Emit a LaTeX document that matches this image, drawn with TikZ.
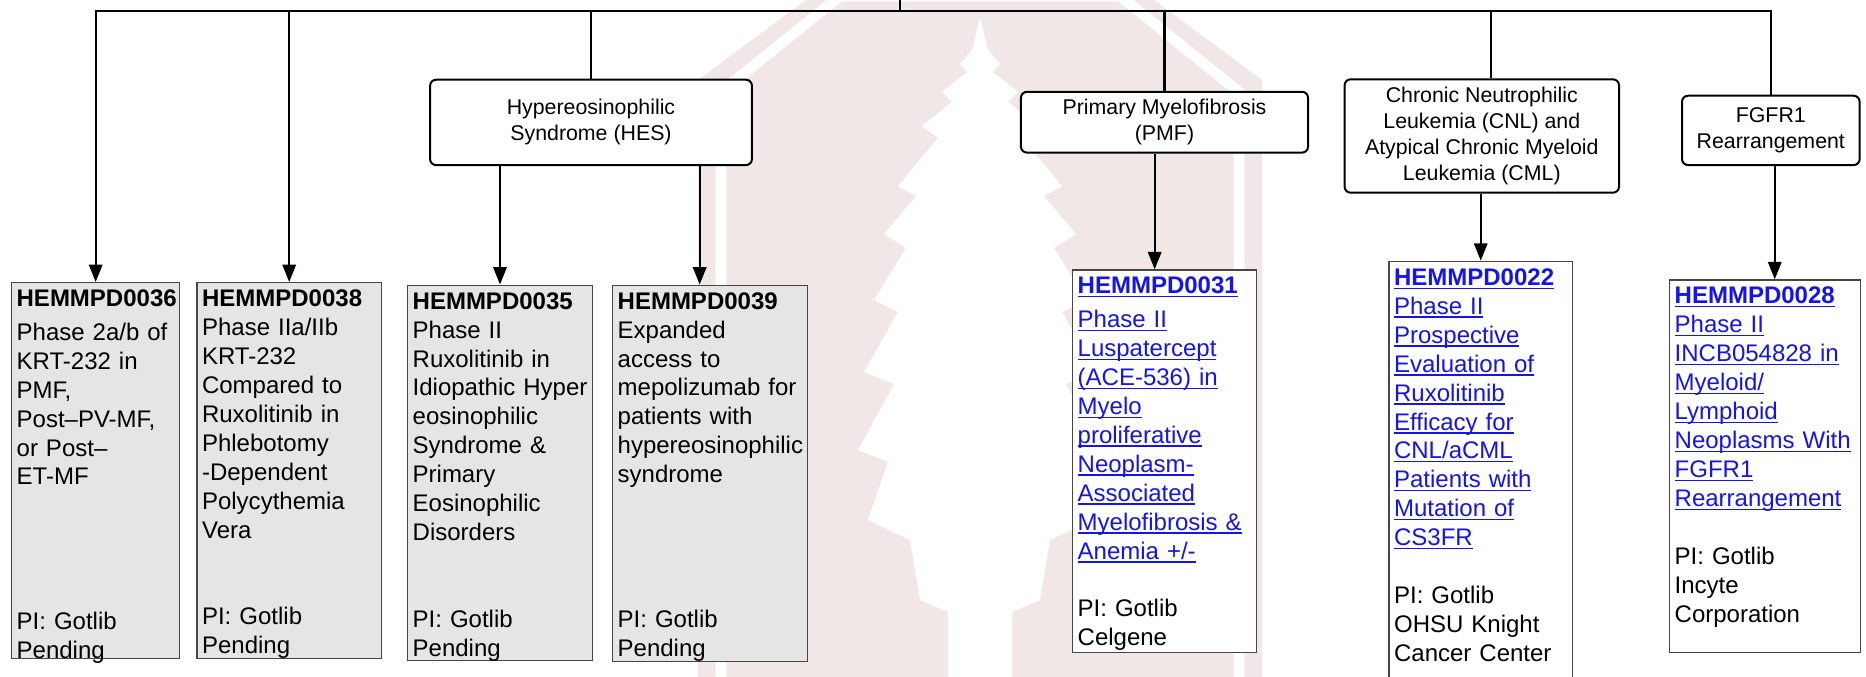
\documentclass[tikz,border=0pt]{standalone}
\usepackage{fontspec}
\setmainfont{Liberation Sans}
\usetikzlibrary{arrows.meta}

\definecolor{linkblue}{RGB}{20,20,235}
\definecolor{pendfill}{RGB}{229,229,229}
\definecolor{boxline}{RGB}{70,70,70}
\definecolor{crest}{RGB}{242,231,231}

\newsavebox{\lnkbox}
\newcommand{\lnk}[1]{\textcolor{linkblue}{\sbox{\lnkbox}{#1}\rlap{\rule[-2.6pt]{\wd\lnkbox}{1pt}}\usebox{\lnkbox}}}

\tikzset{
    wire/.style={line width=1.6pt},
    arrow/.style={wire, -{Triangle[length=13pt, width=10pt]}},
    groupbox/.style={draw, line width=1.5pt, rounded corners=4.5pt, fill=white,
        align=center, inner sep=0pt, font=\fontsize{16}{19.5}\selectfont},
    pendtrial/.style={draw=boxline, line width=1pt, fill=pendfill, anchor=north west,
        align=left, inner xsep=3.75pt, inner ysep=5.1pt, text height=12.9pt,
        font=\fontsize{18}{21.7}\selectfont},
    opentrial/.style={pendtrial, fill=white}
}

\begin{document}
\begin{tikzpicture}[x=0.75pt, y=-0.75pt]
            \useasboundingbox (0, 0) rectangle (1866, 676);
            \fill[white] (0, 0) rectangle (1866, 676);

            % watermark behind the chart
            \fill[crest] (698, 700) -- (698, 80) -- (806, 0) -- (1154, 0) -- (1262, 80) -- (1262, 700) -- cycle;
            \draw[white, line width=8pt] (721, 700) -- (721, 92) -- (840, -4) -- (1120, -4) -- (1239, 92) -- (1239, 700);
            \fill[white] (980, 18) -- (988, 50) -- (1000, 64) -- (993, 72) -- (1018, 92) -- (1008, 102)
                -- (1038, 126) -- (1022, 138) -- (1062, 186) -- (1044, 196) -- (1076, 234) -- (1054, 248)
                -- (1086, 300) -- (1062, 312) -- (1096, 372) -- (1066, 384) -- (1102, 450) -- (1072, 462)
                -- (1092, 520) -- (1050, 540) -- (1040, 600) -- (1012, 612) -- (1012, 700) -- (948, 700)
                -- (948, 612) -- (920, 600) -- (910, 540) -- (868, 520) -- (888, 462) -- (858, 450)
                -- (894, 384) -- (864, 372) -- (898, 312) -- (874, 300) -- (906, 248) -- (884, 234)
                -- (916, 196) -- (898, 186) -- (938, 138) -- (922, 126) -- (952, 102) -- (942, 92)
                -- (967, 72) -- (960, 64) -- (972, 50) -- cycle;

            \node[groupbox, minimum width=241.4pt, minimum height=64pt] (hes) at (591, 122.4) {Hypereosinophilic\\Syndrome (HES)};
            \node[groupbox, minimum width=215.3pt, minimum height=45.6pt] (pmf) at (1164.5, 122.2) {Primary Myelofibrosis\\(PMF)};
            \node[groupbox, minimum width=205.8pt, minimum height=85pt] (cnl) at (1481.8, 136) {Chronic Neutrophilic\\Leukemia (CNL) and\\Atypical Chronic Myeloid\\Leukemia (CML)};
            \node[groupbox, minimum width=133.2pt, minimum height=52pt] (fgfr) at (1770.8, 130.4) {FGFR1\\Rearrangement};

            \node[pendtrial, text width=118.5pt, text depth=258.9pt] (t36) at (11, 282)
                {\textbf{HEMMPD0036}\\[3.5pt] Phase 2a/b of\\ KRT-232 in\\ PMF,\\ Post–PV-MF,\\ or Post–\\ ET-MF\\[86.8pt] PI: Gotlib\\ Pending};
            \node[pendtrial, text width=130.7pt, text depth=258.9pt] (t38) at (196.4, 282)
                {\textbf{HEMMPD0038}\\ Phase IIa/IIb\\ KRT-232\\ Compared to\\ Ruxolitinib in\\ Phlebotomy\\ -Dependent\\ Polycythemia\\ Vera\\[43.4pt] PI: Gotlib\\ Pending};
            \node[pendtrial, text width=131pt, text depth=258.5pt] (t35) at (407, 284.5)
                {\textbf{HEMMPD0035}\\ Phase II\\ Ruxolitinib in\\ \mbox{Idiopathic Hyper}\\ eosinophilic\\ Syndrome \&\\ Primary\\ Eosinophilic\\ Disorders\\[43.4pt] PI: Gotlib\\ Pending};
            \node[pendtrial, text width=138.8pt, text depth=259.3pt] (t39) at (612, 284.5)
                {\textbf{HEMMPD0039}\\ Expanded\\ access to\\ mepolizumab for\\ patients with\\ hypereosinophilic\\ syndrome\\[86.8pt] PI: Gotlib\\ Pending};
            \node[opentrial, text width=130.5pt, text depth=263.7pt] (t31) at (1072, 269.3)
                {\textbf{\lnk{HEMMPD0031}}\\[3.5pt] \lnk{Phase II}\\ \lnk{Luspatercept}\\ \lnk{(ACE-536) in}\\ \lnk{Myelo}\\ \lnk{proliferative}\\ \lnk{Neoplasm-}\\ \lnk{Associated}\\ \lnk{Myelofibrosis \&}\\ \lnk{Anemia +/-}\\[21.7pt] PI: Gotlib\\ Celgene};
            \node[opentrial, text width=130pt, text depth=306.4pt] (t22) at (1388.4, 260.7)
                {\textbf{\lnk{HEMMPD0022}}\\ \lnk{Phase II}\\ \lnk{Prospective}\\ \lnk{Evaluation of}\\ \lnk{Ruxolitinib}\\ \lnk{Efficacy for}\\ \lnk{CNL/aCML}\\ \lnk{Patients with}\\ \lnk{Mutation of}\\ \lnk{CS3FR}\\[21.7pt] PI: Gotlib\\ OHSU Knight\\ Cancer Center};
            \node[opentrial, text width=135.5pt, text depth=256.2pt] (t28) at (1669, 279.3)
                {\textbf{\lnk{HEMMPD0028}}\\ \lnk{Phase II}\\ \lnk{INCB054828 in}\\ \lnk{Myeloid/}\\ \lnk{Lymphoid}\\ \lnk{Neoplasms With}\\ \lnk{FGFR1}\\ \lnk{Rearrangement}\\[21.7pt] PI: Gotlib\\ Incyte\\ Corporation};

            \coordinate (root) at (900, 0);
            \coordinate (bus) at (0, 10.8);
            \coordinate (c22) at ([xshift=6.7pt]cnl.north);
            \coordinate (a39) at ([xshift=-7.9pt]t39.north);
            \coordinate (a31) at ([xshift=-7.5pt]t31.north);
            \coordinate (a28) at ([xshift=7.3pt]t28.north);

            \draw[wire] (root) -- (root |- bus);
            \draw[arrow] (fgfr.north) -- (fgfr.north |- bus) -- (t36.north |- bus) -- (t36.north);
            \draw[arrow] (t38.north |- bus) -- (t38.north);
            \draw[wire] (hes.north |- bus) -- (hes.north);
            \draw[wire] (pmf.north |- bus) -- (pmf.north);
            \draw[wire] (c22 |- bus) -- (c22);

            \draw[arrow] (t35.north |- hes.south) -- (t35.north);
            \draw[arrow] (a39 |- hes.south) -- (a39);
            \draw[arrow] (a31 |- pmf.south) -- (a31);
            \draw[arrow] (t22.north |- cnl.south) -- (t22.north);
            \draw[arrow] (a28 |- fgfr.south) -- (a28);
\end{tikzpicture}
\end{document}
